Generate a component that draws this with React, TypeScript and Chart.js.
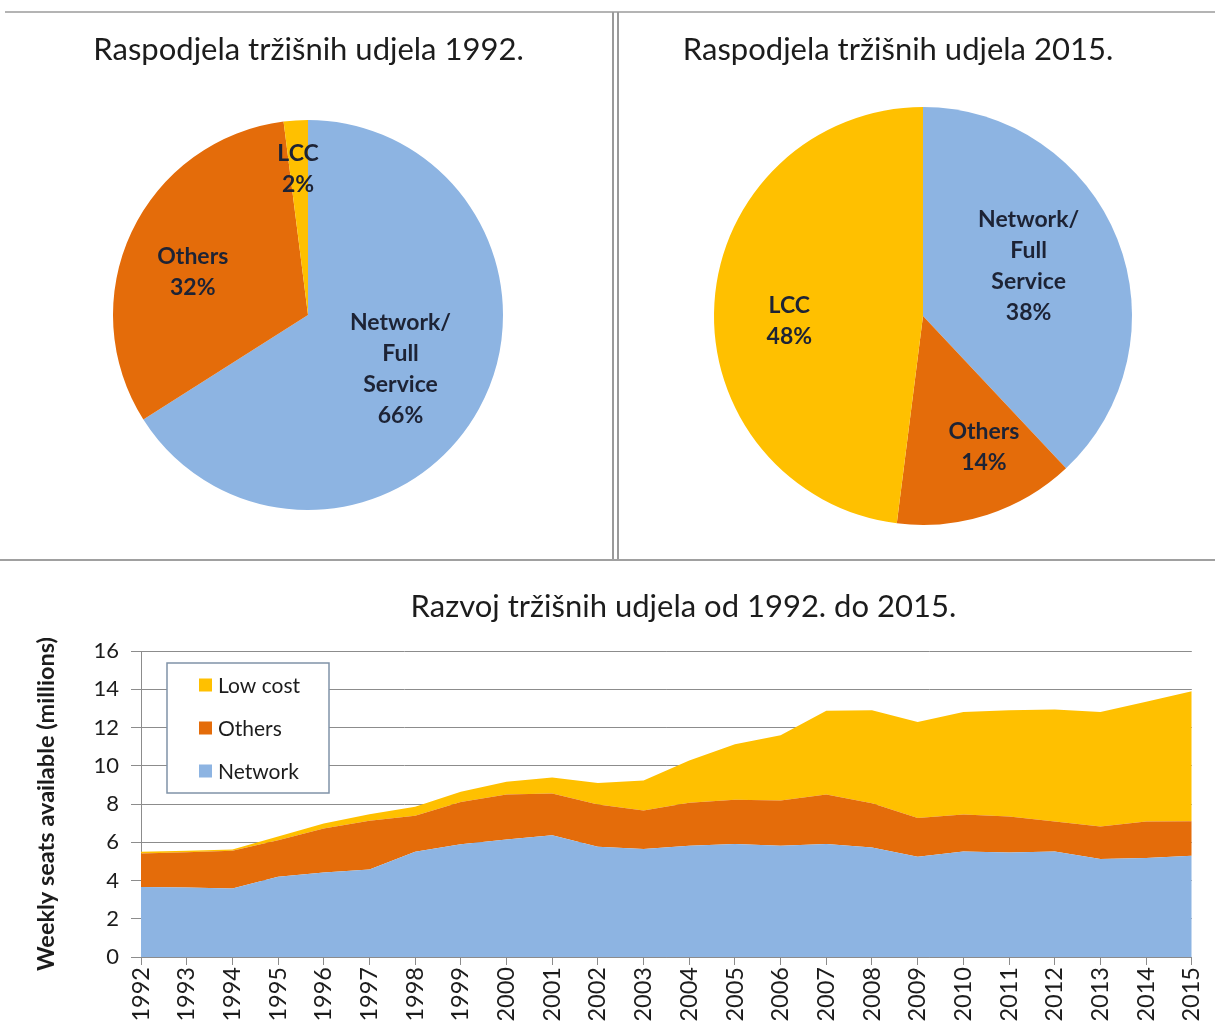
import React, { useEffect, useRef } from "react";
import { Chart, registerables } from "chart.js";

Chart.register(...registerables);

const FONT = "Lato, 'Open Sans', sans-serif";

// ---------- data ----------
const pieCategories = ["Network/\nFull\nService", "Others", "LCC"];
const pie1992Values = [66, 32, 2];
const pie2015Values = [38, 14, 48];

const years = [
  "1992", "1993", "1994", "1995", "1996", "1997", "1998", "1999", "2000", "2001", "2002", "2003",
  "2004", "2005", "2006", "2007", "2008", "2009", "2010", "2011", "2012", "2013", "2014", "2015",
];
const networkSeats = [
  3.66, 3.63, 3.58, 4.19, 4.42, 4.57, 5.5, 5.9, 6.14, 6.37, 5.76, 5.65,
  5.82, 5.91, 5.82, 5.91, 5.73, 5.24, 5.52, 5.47, 5.52, 5.12, 5.17, 5.3,
];
const othersSeats = [
  1.75, 1.85, 1.97, 1.91, 2.3, 2.55, 1.88, 2.2, 2.36, 2.18, 2.22, 2.01,
  2.24, 2.31, 2.36, 2.59, 2.31, 2.03, 1.93, 1.87, 1.56, 1.7, 1.91, 1.8,
];
const lowCostSeats = [
  0.09, 0.07, 0.07, 0.2, 0.26, 0.35, 0.47, 0.54, 0.66, 0.84, 1.12, 1.57,
  2.22, 2.9, 3.41, 4.37, 4.86, 5.02, 5.36, 5.56, 5.86, 5.99, 6.26, 6.8,
];
const yMin = 0;
const yMax = 16;
const yStep = 2;

// ---------- styles ----------
const BLUE = "#8DB4E2";
const ORANGE = "#E46C0A";
const YELLOW = "#FFC000";
const pieColors = [BLUE, ORANGE, YELLOW];
const GRID = "#8c8c8c";
const TEXT = "#1c1c1c";
const PIE_TEXT = "#1d2335";

const pieLabelPlugin = {
  id: "pieLabels",
  afterDatasetsDraw(chart: any, _args: any, opts: any) {
    const meta = chart.getDatasetMeta(0);
    const ds = chart.data.datasets[0];
    const ctx = chart.ctx;
    ctx.save();
    ctx.font = `bold ${opts.size}px ${FONT}`;
    ctx.fillStyle = opts.color;
    ctx.textAlign = "center";
    ctx.textBaseline = "middle";
    meta.data.forEach((arc: any, i: number) => {
      const p = arc.getProps(["x", "y", "startAngle", "endAngle", "outerRadius"], true);
      const mid = (p.startAngle + p.endAngle) / 2 + (opts.shift[i] * Math.PI) / 180;
      const r = p.outerRadius * opts.radial[i];
      const cx = p.x + Math.cos(mid) * r;
      const cy = p.y + Math.sin(mid) * r;
      const lines = String(chart.data.labels[i]).split("\n").concat([`${ds.data[i]}%`]);
      lines.forEach((t: string, k: number) => {
        ctx.fillText(t, cx, cy + (k - (lines.length - 1) / 2) * opts.lineHeight);
      });
    });
    ctx.restore();
  },
};

const boxLegendPlugin = {
  id: "boxLegend",
  afterDraw(chart: any, _args: any, opts: any) {
    const { ctx, chartArea } = chart;
    const x0 = chartArea.left + opts.offsetX;
    const y0 = chartArea.top + opts.offsetY;
    ctx.save();
    ctx.fillStyle = "#ffffff";
    ctx.fillRect(x0, y0, opts.width, opts.height);
    ctx.strokeStyle = opts.borderColor;
    ctx.lineWidth = 1.5;
    ctx.strokeRect(x0, y0, opts.width, opts.height);
    const items = chart.data.datasets
      .map((d: any) => ({ label: d.label, color: d.backgroundColor }))
      .reverse();
    ctx.font = `${opts.size}px ${FONT}`;
    ctx.textBaseline = "middle";
    ctx.textAlign = "left";
    items.forEach((it: any, i: number) => {
      const cy = y0 + opts.firstRow + i * opts.rowGap;
      ctx.fillStyle = it.color;
      ctx.fillRect(x0 + opts.boxLeft, cy - opts.box / 2, opts.box, opts.box);
      ctx.fillStyle = TEXT;
      ctx.fillText(it.label, x0 + opts.textLeft, cy + 1);
    });
    ctx.restore();
  },
};

// Title drawn relative to the chart area centre (with a horizontal shift)
const shiftedTitlePlugin = {
  id: "shiftedTitle",
  afterDraw(chart: any, _args: any, opts: any) {
    const { ctx, chartArea } = chart;
    ctx.save();
    ctx.font = `${opts.size}px ${FONT}`;
    ctx.fillStyle = TEXT;
    ctx.textAlign = "center";
    ctx.textBaseline = "middle";
    ctx.fillText(opts.text, (chartArea.left + chartArea.right) / 2 + opts.shift, opts.y);
    ctx.restore();
  },
};

function pieConfig(values: number[], title: string, radial: number[], shift: number[], titleShift: number, layoutPadding: any): any {
  return {
    type: "pie",
    data: {
      labels: pieCategories,
      datasets: [{ data: values, backgroundColor: pieColors, borderWidth: 0, hoverOffset: 0 }],
    },
    options: {
      responsive: false,
      animation: false,
      events: [],
      layout: { padding: layoutPadding },
      plugins: {
        legend: { display: false },
        tooltip: { enabled: false },
        shiftedTitle: { text: title, size: 31, y: 38, shift: titleShift },
        pieLabels: { radial, shift, size: 23, lineHeight: 31, color: PIE_TEXT },
      },
    },
    plugins: [shiftedTitlePlugin, pieLabelPlugin],
  };
}

function areaConfig(): any {
  return {
    type: "line",
    data: {
      labels: years,
      datasets: [
        { label: "Network", data: networkSeats, backgroundColor: BLUE, fill: "origin" },
        { label: "Others", data: othersSeats, backgroundColor: ORANGE, fill: "-1" },
        { label: "Low cost", data: lowCostSeats, backgroundColor: YELLOW, fill: "-1" },
      ].map((d) => ({ ...d, borderWidth: 0, borderColor: d.backgroundColor, pointRadius: 0, tension: 0 })),
    },
    options: {
      responsive: false,
      animation: false,
      events: [],
      layout: { padding: { top: 86, right: 0, bottom: 0, left: 0 } },
      scales: {
        x: {
          offset: false,
          grid: { drawOnChartArea: false, drawTicks: true, tickLength: 8, color: GRID },
          border: { color: GRID, width: 1 },
          ticks: {
            color: TEXT,
            font: { family: FONT, size: 23.5 },
            minRotation: 90,
            maxRotation: 90,
            autoSkip: false,
            padding: 2,
          },
          afterFit(scale: any) {
            scale.height = 67;
          },
        },
        y: {
          stacked: true,
          min: yMin,
          max: yMax,
          grid: { color: GRID, tickLength: 10, lineWidth: 1 },
          border: { color: GRID, width: 1 },
          ticks: {
            stepSize: yStep,
            color: TEXT,
            font: { family: FONT, size: 22 },
            padding: 12,
          },
          title: {
            display: true,
            text: "Weekly seats available (millions)",
            color: TEXT,
            font: { family: FONT, size: 23.5, weight: "bold", lineHeight: 1.2 },
            padding: { top: 32, bottom: 0 },
          },
          afterFit(scale: any) {
            scale.width = 141;
          },
        },
      },
      plugins: {
        legend: { display: false },
        tooltip: { enabled: false },
        shiftedTitle: { text: "Razvoj tržišnih udjela od 1992. do 2015.", size: 31, y: 42, shift: 17 },
        boxLegend: {
          offsetX: 26,
          offsetY: 12,
          width: 162,
          height: 130,
          borderColor: "#8093a8",
          firstRow: 22,
          rowGap: 43,
          box: 13,
          boxLeft: 32,
          textLeft: 51,
          size: 21,
        },
      },
    },
    plugins: [shiftedTitlePlugin, boxLegendPlugin],
  };
}

function ChartCanvas(props: { left: number; top: number; width: number; height: number; make: () => any }) {
  const ref = useRef<HTMLCanvasElement>(null);
  useEffect(() => {
    const chart = new Chart(ref.current as HTMLCanvasElement, props.make());
    return () => chart.destroy();
  }, []);
  return (
    <canvas
      ref={ref}
      width={props.width}
      height={props.height}
      style={{ position: "absolute", left: props.left, top: props.top, width: props.width, height: props.height }}
    />
  );
}

function Line(props: { left: number; top: number; width: number; height: number; color: string }) {
  return (
    <div
      style={{
        position: "absolute",
        left: props.left,
        top: props.top,
        width: props.width,
        height: props.height,
        background: props.color,
      }}
    />
  );
}

export default function App() {
  return (
    <div
      style={{
        position: "absolute",
        left: 0,
        top: 0,
        width: 1215,
        height: 1024,
        background: "#ffffff",
        overflow: "hidden",
      }}
    >
      <ChartCanvas
        left={0}
        top={12}
        width={616}
        height={548}
        make={() =>
          pieConfig(pie1992Values, "Raspodjela tržišnih udjela 1992.", [0.55, 0.63, 0.75], [1.6, -4.9, -0.3], 0.5, {
            top: 108,
            bottom: 50,
            left: 0,
            right: 0,
          })
        }
      />
      <ChartCanvas
        left={620}
        top={12}
        width={595}
        height={548}
        make={() =>
          pieConfig(pie2015Values, "Raspodjela tržišnih udjela 2015.", [0.56, 0.69, 0.64], [-3.9, -7, -5.6], -25, {
            top: 95,
            bottom: 35,
            left: 50,
            right: 39,
          })
        }
      />
      <ChartCanvas left={0} top={565} width={1222} height={459} make={areaConfig} />
      <Line left={5} top={11} width={1210} height={2} color="#b4b4b4" />
      <Line left={612} top={12} width={2} height={549} color="#9a9a9a" />
      <Line left={617} top={12} width={2} height={549} color="#9a9a9a" />
      <Line left={0} top={559} width={1215} height={2} color="#a0a0a0" />
    </div>
  );
}
